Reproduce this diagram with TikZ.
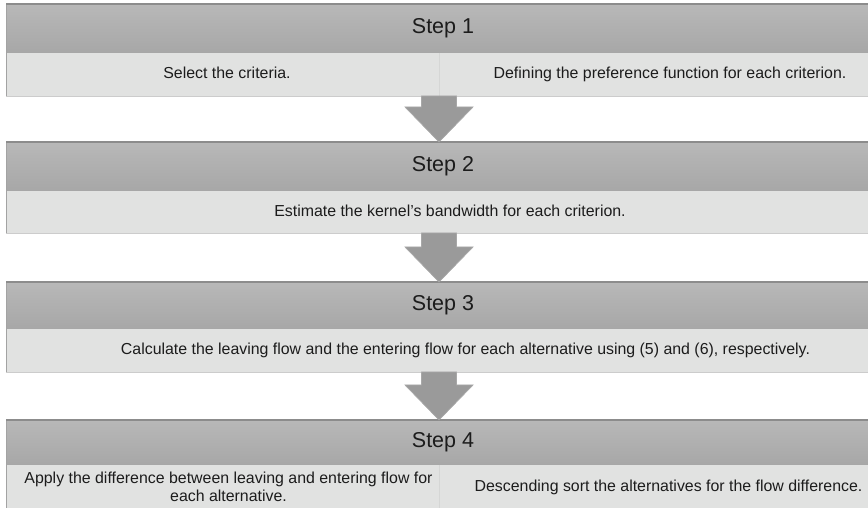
\documentclass[tikz,border=0pt]{standalone}
\usepackage{fontspec}
\setmainfont{Liberation Sans}
\usetikzlibrary{calc}

\definecolor{headtop}{HTML}{B8B8B8}
\definecolor{headbot}{HTML}{A7A7A7}
\definecolor{headline}{HTML}{8C8C8C}
\definecolor{bodyfill}{HTML}{E1E2E1}
\definecolor{bodyline}{HTML}{CCCCCC}
\definecolor{splitline}{HTML}{D5D6D5}
\definecolor{arrowfill}{HTML}{9A9A9A}
\definecolor{arrowedge}{HTML}{A8A8A8}
\definecolor{inktext}{HTML}{1C1C1C}

\tikzset{
  band/.style={rectangle, inner sep=0pt, outer sep=0pt, minimum width=866pt},
  headband/.style={band, top color=headtop, bottom color=headbot},
  bodyband/.style={band, fill=bodyfill},
  cellsplit/.style={draw=splitline, line width=0.6pt},
  headedge/.style={draw=headline, line width=1.6pt},
  sideedge/.style={draw=headline!80, line width=0.7pt},
  footedge/.style={draw=bodyline, line width=0.7pt},
  steptitle/.style={inner sep=0pt, text=inktext, font=\fontsize{21.5}{26}\selectfont,
    text height=15.5pt, text depth=4.5pt},
  textbase/.style={inner sep=0pt, text=inktext, font=\fontsize{15.9}{18}\selectfont, align=center},
  steptext/.style={textbase, text height=11.5pt, text depth=3.3pt},
  blockarrow/.style={fill=arrowfill, draw=arrowedge, line width=0.7pt, line join=miter}
}

\begin{document}
\begin{tikzpicture}[x=1pt, y=1pt]
\useasboundingbox (0,0) rectangle (868,508);
\clip (0,0) rectangle (868,508);

% header and body bands of the four steps
\node[headband, minimum height=49pt] (h1) at (439,479.5) {};
\node[bodyband, minimum height=43pt] (b1) at (439,433.5) {};
\node[headband, minimum height=49pt] (h2) at (439,341.5) {};
\node[bodyband, minimum height=42pt] (b2) at (439,296) {};
\node[headband, minimum height=47pt] (h3) at (439,202.5) {};
\node[bodyband, minimum height=43pt] (b3) at (439,157.5) {};
\node[headband, minimum height=45pt] (h4) at (439,65.5) {};
\node[bodyband, minimum height=45pt] (b4) at (439,20.5) {};

% edges of the bands
\foreach \h/\b in {h1/b1, h2/b2, h3/b3, h4/b4} {
  \draw[footedge] (\b.south west) -- (\b.south east);
  \draw[sideedge] (\h.north west) -- (\b.south west);
  \draw[headedge] (\h.north west) -- (\h.north east);
}

% split between the two cells of steps 1 and 4
\draw[cellsplit] (439.5,455) -- (439.5,412);
\draw[cellsplit] (439.5,43) -- (439.5,-2);

% block arrows from each step down to the next
\foreach \b/\h in {b1/h2, b2/h3, b3/h4} {
  \draw[blockarrow]
    ($(\b.south)+(-17.5,0)$) -- ($(\h.north)+(-17.5,35)$) --
    ($(\h.north)+(-34,35)$) -- (\h.north) --
    ($(\h.north)+(34,35)$) -- ($(\h.north)+(17.5,35)$) --
    ($(\b.south)+(17.5,0)$) -- cycle;
}

% step titles
\node[steptitle] (t1) at (443,479.5) {Step 1};
\node[steptitle] (t2) at (443,341.5) {Step 2};
\node[steptitle] (t3) at (443,202.5) {Step 3};
\node[steptitle] (t4) at (443,65.5) {Step 4};

% step contents
\node[steptext] (s1a) at (227,433.5) {Select the criteria.};
\node[steptext] (s1b) at (670,433.5) {Defining the preference function for each criterion.};
\node[steptext] (s2) at (450,296) {Estimate the kernel’s bandwidth for each criterion.};
\node[steptext] (s3) at (465.5,157.5) {Calculate the leaving flow and the entering flow for each alternative using (5) and (6), respectively.};
\node[textbase] (s4a) at (228.5,21)
  {Apply the difference between leaving and entering flow for\\each alternative.};
\node[steptext] (s4b) at (668.5,21) {Descending sort the alternatives for the flow difference.};
\end{tikzpicture}
\end{document}
